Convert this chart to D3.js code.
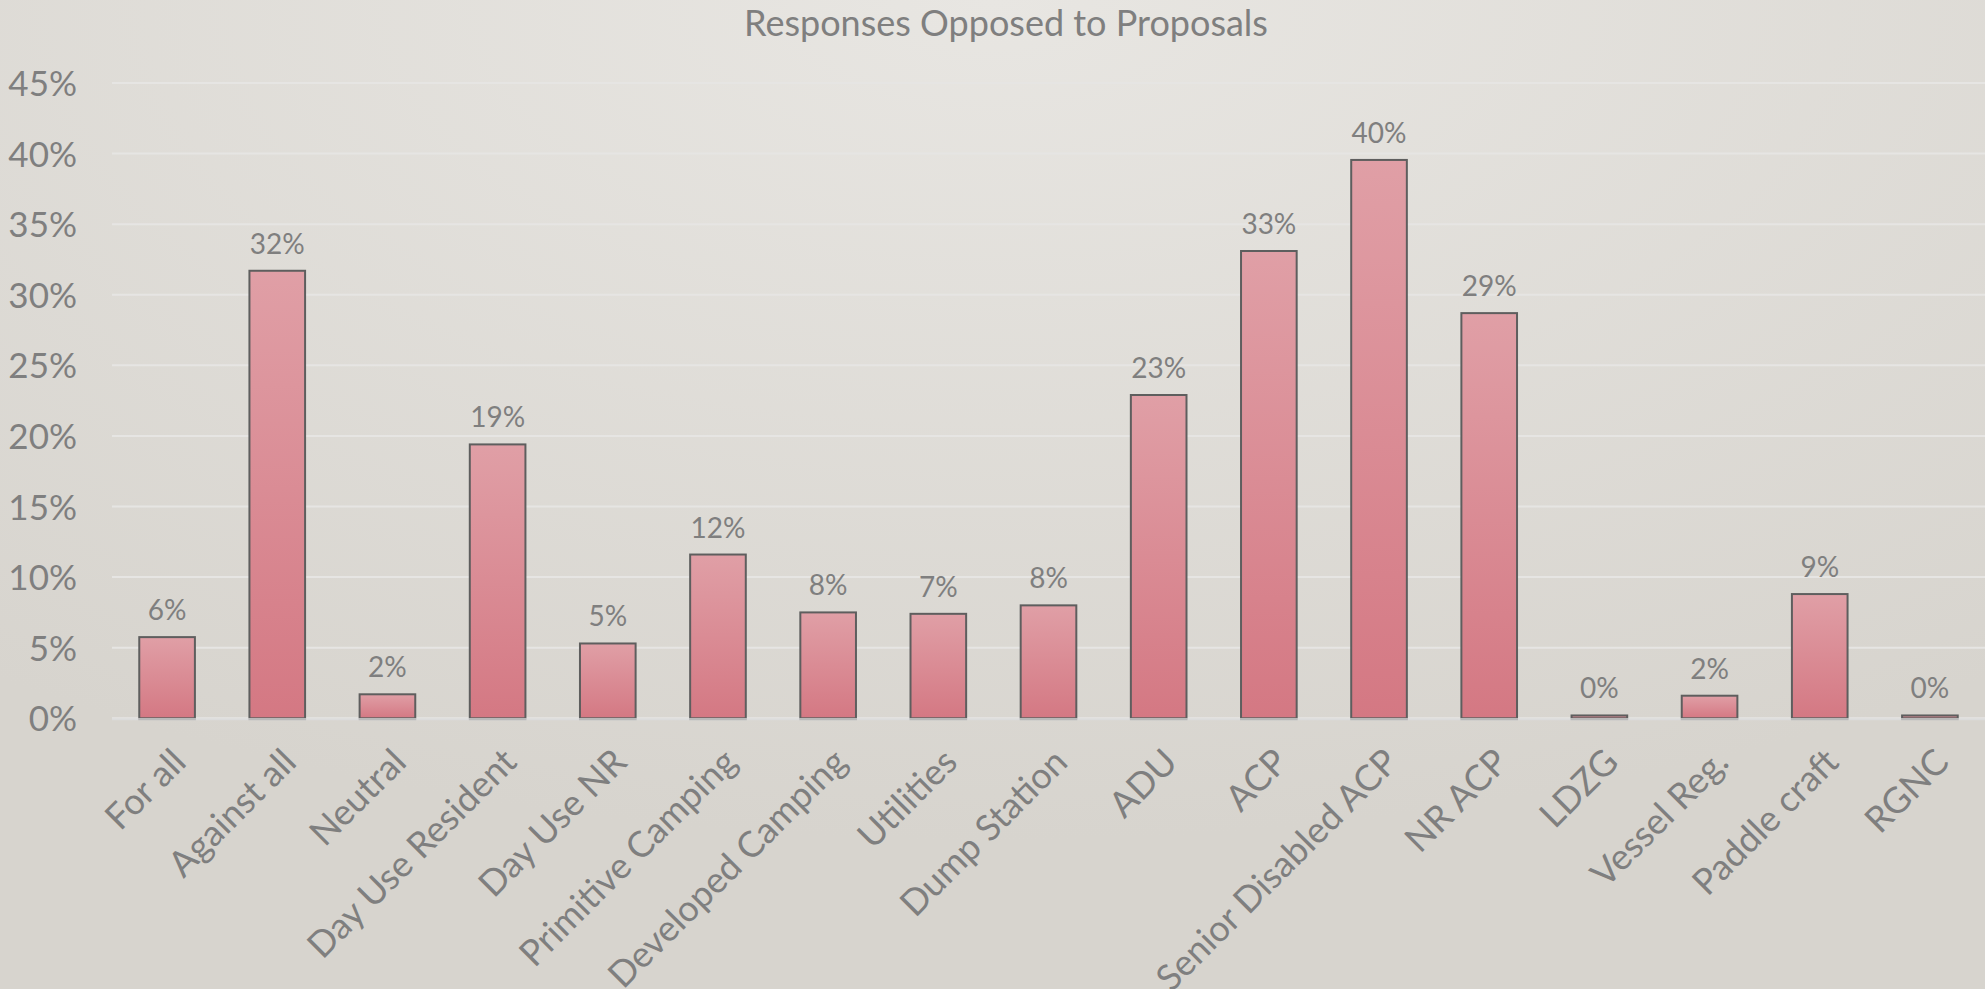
<!DOCTYPE html>
<html>
<head>
<meta charset="utf-8">
<script src="https://cdn.jsdelivr.net/npm/d3@7"></script>
<style>
  html, body { margin: 0; padding: 0; overflow: hidden; }
  svg { display: block; }
  text { font-family: Lato, "Open Sans", sans-serif; fill: #7f7f7f; }
</style>
</head>
<body>
<svg id="chart" width="1985" height="989"></svg>
<script>
// ---- data ----
const categories = ["For all", "Against all", "Neutral", "Day Use Resident", "Day Use NR",
  "Primitive Camping", "Developed Camping", "Utilities", "Dump Station", "ADU", "ACP",
  "Senior Disabled ACP", "NR ACP", "LDZG", "Vessel Reg.", "Paddle craft", "RGNC"];
const opposed = [0.0575, 0.317, 0.017, 0.194, 0.053, 0.116, 0.075, 0.074, 0.080, 0.229,
  0.331, 0.3955, 0.287, 0.002, 0.016, 0.088, 0.002];
const yTicks = [0, 0.05, 0.10, 0.15, 0.20, 0.25, 0.30, 0.35, 0.40, 0.45];
const title = "Responses Opposed to Proposals";

// ---- layout ----
const W = 1985, H = 989;
const svg = d3.select("#chart");
const defs = svg.append("defs");

const bg = defs.append("radialGradient").attr("id", "bg")
  .attr("cx", "50%").attr("cy", "0%").attr("r", "85%")
  .attr("gradientUnits", "objectBoundingBox");
bg.append("stop").attr("offset", "0%").attr("stop-color", "#e8e6e2");
bg.append("stop").attr("offset", "100%").attr("stop-color", "#d7d4ce");

const barGrad = defs.append("linearGradient").attr("id", "barGrad")
  .attr("x1", 0).attr("y1", 0).attr("x2", 0).attr("y2", 1);
barGrad.append("stop").attr("offset", "0%").attr("stop-color", "#e09fa6");
barGrad.append("stop").attr("offset", "100%").attr("stop-color", "#d47883");

svg.append("rect").attr("width", W).attr("height", H).attr("fill", "url(#bg)");

const x = d3.scaleBand().domain(categories).range([112, 1985]).paddingInner(0.495).paddingOuter(0.2475);
const y = d3.scaleLinear().domain([0, 0.45]).range([718.3, 83]);

// gridlines
svg.append("g").selectAll("line").data(yTicks).join("line")
  .attr("x1", 112).attr("x2", W)
  .attr("y1", d => y(d)).attr("y2", d => y(d))
  .attr("stroke", "#e6e5e3").attr("stroke-width", 2);

// y axis labels
const yAxis = d3.axisLeft(y).tickValues(yTicks).tickFormat(d3.format(".0%")).tickSize(0).tickPadding(0);
const gy = svg.append("g").attr("transform", "translate(77,0)").call(yAxis);
gy.select(".domain").remove();
gy.selectAll("text").style("font-size", "35px").style("font-family", "Lato, sans-serif")
  .attr("fill", "#7f7f7f").attr("dy", "0.36em");

// bars
svg.append("g").selectAll("rect").data(opposed).join("rect")
  .attr("x", (d, i) => x(categories[i]))
  .attr("y", d => y(d))
  .attr("width", x.bandwidth())
  .attr("height", d => y(0) - y(d))
  .attr("fill", "url(#barGrad)")
  .attr("stroke", "#5e5e5e").attr("stroke-width", 2);

// baseline
svg.append("line").attr("x1", 112).attr("x2", W).attr("y1", y(0) + 1).attr("y2", y(0) + 1)
  .attr("stroke", "#dcdcdc").attr("stroke-width", 2);
svg.append("g").selectAll("line").data(categories).join("line")
  .attr("x1", d => x(d) - 1).attr("x2", d => x(d) + x.bandwidth() + 1)
  .attr("y1", y(0) + 1).attr("y2", y(0) + 1)
  .attr("stroke", "#b9b9b9").attr("stroke-width", 2);

// data labels
svg.append("g").selectAll("text").data(opposed).join("text")
  .attr("x", (d, i) => x(categories[i]) + x.bandwidth() / 2)
  .attr("y", d => y(d) - 17)
  .attr("text-anchor", "middle")
  .style("font-size", "28px")
  .text(d => d3.format(".0%")(d));

// x axis labels
const xAxis = d3.axisBottom(x).tickSize(0).tickPadding(0);
const gx = svg.append("g").attr("transform", `translate(0,${y(0)})`).call(xAxis);
gx.select(".domain").remove();
gx.selectAll("text")
  .style("font-size", "36px").style("font-family", "Lato, sans-serif")
  .attr("fill", "#7f7f7f")
  .attr("text-anchor", "end")
  .attr("y", 0).attr("dy", "0.35em")
  .attr("transform", "translate(12,37) rotate(-45)");

// title
svg.append("text").attr("x", 1006).attr("y", 36).attr("text-anchor", "middle")
  .style("font-size", "36px").text(title);
</script>
</body>
</html>
